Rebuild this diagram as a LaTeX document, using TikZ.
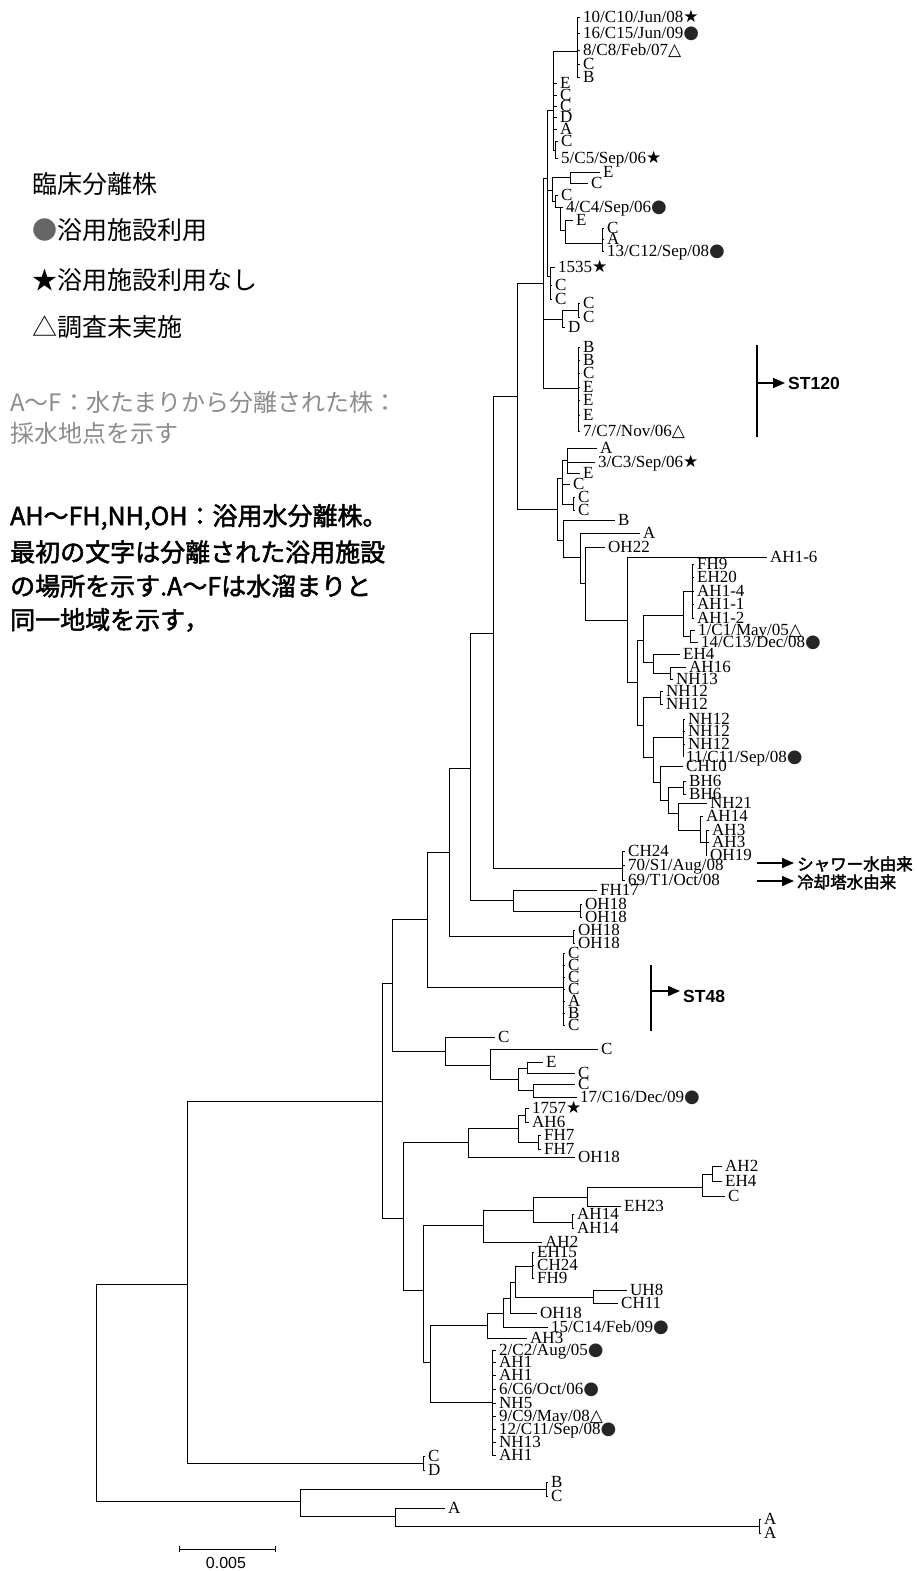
\documentclass[tikz,border=0pt]{standalone}
\usepackage{fontspec}
\setmainfont{Liberation Serif}
\newfontfamily\symf{DejaVu Sans}
\newfontfamily\jpf{Noto Sans CJK JP}
\newfontfamily\jpbf[FakeBold=2]{Noto Sans CJK JP}
\newfontfamily\arf{Liberation Sans}
\usetikzlibrary{arrows.meta}
\newcommand{\lfont}{\fontsize{17}{18}\selectfont}
\newcommand{\Sst}{{\symf\fontsize{17}{17}\selectfont ★}}
\newcommand{\Sdt}{{\color{black!85}\symf\fontsize{18}{17}\selectfont ●}}
\newcommand{\Str}{{\symf\fontsize{17}{17}\selectfont △}}
\newcommand{\lf}[4]{\coordinate (#1) at (#2,#3);\node[lab] (#1t) at (#1) {#4};}
\newcommand{\ic}[3]{\coordinate (#1) at (#2,#3);}
\newcommand{\brs}[2]{\foreach \cc in {#2}{\draw[br] (#1) |- (\cc);}}
\begin{document}
\begin{tikzpicture}[x=1pt,y=-1pt,
 br/.style={line width=0.9pt},
 lab/.style={anchor=west,inner sep=0pt,xshift=3pt,font=\lfont,text height=11.6pt,text depth=0.5pt},
 mk/.style={line width=1.4pt},
 arr/.style={line width=1.4pt,-{Triangle[length=12pt,width=10pt]},shorten >=3pt},
 lg/.style={anchor=west,inner sep=0pt,font=\jpf\fontsize{25}{28}\selectfont},
 lgg/.style={anchor=west,inner sep=0pt,font=\jpf\fontsize{24}{28}\selectfont,text=black!45},
 lgb/.style={anchor=west,inner sep=0pt,font=\jpbf\fontsize{25}{28}\selectfont},
 stl/.style={anchor=west,inner sep=0pt,font=\arf\bfseries\fontsize{17.5}{18}\selectfont},
 jl/.style={anchor=west,inner sep=0pt,font=\jpbf\fontsize{16.5}{18}\selectfont}]
\useasboundingbox (0,0) rectangle (917,1571);
% ---------------- legend
\node[lg] (lg1) at (32,184) {臨床分離株};
\node[lg] (lg2) at (32,230) {{\color{black!60}●}浴用施設利用};
\node[lg] (lg3) at (32,280) {★浴用施設利用なし};
\node[lg] (lg4) at (32,327) {△調査未実施};
\node[lgg] (lg5) at (10,402) {A～F：水たまりから分離された株：};
\node[lgg] (lg6) at (10,433) {採水地点を示す};
\node[lgb] (lg7) at (10,517) {AH～FH,NH,OH：浴用水分離株。};
\node[lgb] (lg8) at (10,552) {最初の文字は分離された浴用施設};
\node[lgb] (lg9) at (10,586) {の場所を示す.A～Fは水溜まりと};
\node[lgb] (lg10) at (10,620) {同一地域を示す，};
% ---------------- root
\ic{R}{96}{1392}
\ic{n187}{187}{1284}
\ic{n300}{300}{1501}
\brs{R}{n187,n300}
\ic{n382}{382}{1101}
\ic{ncd}{423}{1463}
\brs{n187}{n382,ncd}
\lf{cd1}{425}{1456}{C}
\lf{cd2}{425}{1470}{D}
\brs{ncd}{cd1,cd2}
\ic{n546}{546}{1489}
\ic{n395}{395}{1516}
\brs{n300}{n546,n395}
\lf{ob1}{548}{1482}{B}
\lf{ob2}{548}{1496}{C}
\brs{n546}{ob1,ob2}
\lf{oa1}{445}{1508}{A}
\ic{n759}{759}{1526}
\brs{n395}{oa1,n759}
\lf{oa2}{761}{1519}{A}
\lf{oa3}{761}{1533}{A}
\brs{n759}{oa2,oa3}
% ---------------- n382
\ic{n392}{392}{983}
\ic{n403}{403}{1218}
\brs{n382}{n392,n403}
\ic{n427}{427}{919}
\ic{n445}{445}{1051}
\brs{n392}{n427,n445}
\lf{cc1}{495}{1037}{C}
\ic{n490}{490}{1065}
\brs{n445}{cc1,n490}
\lf{cc2}{598}{1049}{C}
\ic{n518c}{518}{1079}
\brs{n490}{cc2,n518c}
\ic{n527}{527}{1068}
\ic{n533c}{533}{1090}
\brs{n518c}{n527,n533c}
\lf{cc3}{543}{1062}{E}
\lf{cc4}{575}{1073}{C}
\brs{n527}{cc3,cc4}
\lf{cc5}{575}{1084}{C}
\lf{cc6}{577}{1097}{17/C16/Dec/09\Sdt}
\brs{n533c}{cc5,cc6}
% ---------------- n403
\ic{n468}{468}{1142}
\ic{n423}{423}{1290}
\brs{n403}{n468,n423}
\ic{n518}{518}{1128}
\lf{fo1}{575}{1157}{OH18}
\brs{n468}{n518,fo1}
\ic{n525}{525}{1115}
\ic{n538}{538}{1142}
\brs{n518}{n525,n538}
\lf{fa1}{529}{1108}{1757\Sst}
\lf{fa2}{529}{1122}{AH6}
\brs{n525}{fa1,fa2}
\lf{ff1}{541}{1135}{FH7}
\lf{ff2}{541}{1149}{FH7}
\brs{n538}{ff1,ff2}
% ---------------- n423
\ic{n483}{483}{1225}
\ic{n430}{430}{1362}
\brs{n423}{n483,n430}
\ic{n533}{533}{1210}
\lf{ga1}{542}{1242}{AH2}
\brs{n483}{n533,ga1}
\ic{n587}{587}{1197}
\ic{n572}{572}{1222}
\brs{n533}{n587,n572}
\ic{n702}{702}{1187}
\lf{ga2}{621}{1206}{EH23}
\brs{n587}{n702,ga2}
\ic{n712}{712}{1174}
\lf{ga3}{725}{1196}{C}
\brs{n702}{n712,ga3}
\lf{ga4}{722}{1166}{AH2}
\lf{ga5}{722}{1181}{EH4}
\brs{n712}{ga4,ga5}
\lf{ga6}{574}{1214}{AH14}
\lf{ga7}{574}{1228}{AH14}
\brs{n572}{ga6,ga7}
\ic{n487}{487}{1325}
\ic{n492}{492}{1402}
\brs{n430}{n487,n492}
\ic{n503}{503}{1313}
\lf{ha1}{527}{1338}{AH3}
\brs{n487}{n503,ha1}
\ic{n510}{510}{1298}
\lf{ha2}{548}{1327}{15/C14/Feb/09\Sdt}
\brs{n503}{n510,ha2}
\ic{n515}{515}{1282}
\lf{ha3}{537}{1313}{OH18}
\brs{n510}{n515,ha3}
\ic{n532}{532}{1266}
\ic{n593}{593}{1297}
\brs{n515}{n532,n593}
\lf{ha4}{534}{1252}{EH15}
\lf{ha5}{534}{1265}{CH24}
\lf{ha6}{534}{1278}{FH9}
\brs{n532}{ha4,ha5,ha6}
\lf{ha7}{627}{1290}{UH8}
\lf{ha8}{618}{1303}{CH11}
\brs{n593}{ha7,ha8}
\lf{m1}{496}{1350}{2/C2/Aug/05\Sdt}
\lf{m2}{496}{1362}{AH1}
\lf{m3}{496}{1375}{AH1}
\lf{m4}{496}{1389}{6/C6/Oct/06\Sdt}
\lf{m5}{496}{1403}{NH5}
\lf{m6}{496}{1416}{9/C9/May/08\Str}
\lf{m7}{496}{1429}{12/C11/Sep/08\Sdt}
\lf{m8}{496}{1442}{NH13}
\lf{m9}{496}{1455}{AH1}
\brs{n492}{m1,m2,m3,m4,m5,m6,m7,m8,m9}
% ---------------- n427
\ic{n449}{449}{852}
\ic{n563}{563}{987}
\brs{n427}{n449,n563}
\lf{k1}{565}{953}{C}
\lf{k2}{565}{965}{C}
\lf{k3}{565}{977}{C}
\lf{k4}{565}{989}{C}
\lf{k5}{565}{1001}{A}
\lf{k6}{565}{1013}{B}
\lf{k7}{565}{1025}{C}
\brs{n563}{k1,k2,k3,k4,k5,k6,k7}
\ic{n470}{470}{768}
\ic{n573}{573}{936}
\brs{n449}{n470,n573}
\lf{o1}{575}{930}{OH18}
\lf{o2}{575}{943}{OH18}
\brs{n573}{o1,o2}
\ic{n493}{493}{633}
\ic{n513}{513}{900}
\brs{n470}{n493,n513}
\lf{fh17}{597}{890}{FH17}
\ic{n580o}{580}{911}
\brs{n513}{fh17,n580o}
\lf{o3}{582}{904}{OH18}
\lf{o4}{582}{917}{OH18}
\brs{n580o}{o3,o4}
\ic{n517}{517}{396}
\ic{n622}{622}{868}
\brs{n493}{n517,n622}
\lf{s1}{625}{851}{CH24}
\lf{s2}{625}{865}{70/S1/Aug/08}
\lf{s3}{625}{880}{69/T1/Oct/08}
\brs{n622}{s1,s2,s3}
% ---------------- n517 upper
\ic{n543}{543}{283}
\ic{n557}{557}{509}
\brs{n517}{n543,n557}
\ic{n547}{547}{178}
\ic{n562}{562}{319}
\ic{n578}{578}{388}
\brs{n543}{n547,n562,n578}
\ic{n553}{553}{110}
\ic{n552}{552}{190}
\ic{n550}{550}{276}
\brs{n547}{n553,n552,n550}
\ic{n577}{577}{51}
\lf{t1}{580}{17}{10/C10/Jun/08\Sst}
\lf{t2}{580}{33}{16/C15/Jun/09\Sdt}
\lf{t3}{580}{50}{8/C8/Feb/07\Str}
\lf{t4}{580}{64}{C}
\lf{t5}{580}{77}{B}
\brs{n577}{t1,t2,t3,t4,t5}
\lf{u1}{557}{83}{E}
\lf{u2}{557}{95}{C}
\lf{u3}{557}{106}{C}
\lf{u4}{557}{117}{D}
\lf{u5}{557}{129}{A}
\ic{n555}{555}{150}
\brs{n553}{n577,u1,u2,u3,u4,u5,n555}
\lf{u6}{558}{141}{C}
\lf{u7}{558}{158}{5/C5/Sep/06\Sst}
\brs{n555}{u6,u7}
\ic{n570}{570}{177}
\ic{n555b}{555}{201}
\brs{n552}{n570,n555b}
\lf{v1}{600}{172}{E}
\lf{v2}{588}{183}{C}
\brs{n570}{v1,v2}
\lf{v3}{558}{195}{C}
\ic{n560}{560}{207}
\brs{n555b}{v3,n560}
\lf{v4}{563}{207}{4/C4/Sep/06\Sdt}
\ic{n565}{565}{230}
\brs{n560}{v4,n565}
\lf{v5}{573}{220}{E}
\ic{n602}{602}{243}
\brs{n565}{v5,n602}
\lf{v6}{604}{228}{C}
\lf{v7}{604}{239}{A}
\lf{v8}{604}{251}{13/C12/Sep/08\Sdt}
\brs{n602}{v6,v7,v8}
\lf{w1}{555}{267}{1535\Sst}
\lf{w2}{552}{285}{C}
\lf{w3}{552}{299}{C}
\brs{n550}{w1,w2,w3}
\ic{n578c}{578}{310}
\lf{w4}{565}{327}{D}
\brs{n562}{n578c,w4}
\lf{w5}{580}{303}{C}
\lf{w6}{580}{317}{C}
\brs{n578c}{w5,w6}
\lf{p1}{580}{347}{B}
\lf{p2}{580}{360}{B}
\lf{p3}{580}{373}{C}
\lf{p4}{580}{387}{E}
\lf{p5}{580}{400}{E}
\lf{p6}{580}{415}{E}
\lf{p7}{580}{431}{7/C7/Nov/06\Str}
\brs{n578}{p1,p2,p3,p4,p5,p6,p7}
% ---------------- n557
\ic{n562b}{562}{478}
\ic{n563b}{563}{540}
\brs{n557}{n562b,n563b}
\ic{n567}{567}{460}
\lf{x3}{570}{484}{C}
\ic{n573b}{573}{504}
\brs{n562b}{n567,x3,n573b}
\lf{x0}{597}{448}{A}
\lf{x1}{595}{462}{3/C3/Sep/06\Sst}
\lf{x2}{580}{473}{E}
\brs{n567}{x0,x1,x2}
\lf{x4}{575}{497}{C}
\lf{x5}{575}{510}{C}
\brs{n573b}{x4,x5}
\lf{x6}{615}{520}{B}
\ic{n580a}{580}{557}
\brs{n563b}{x6,n580a}
\lf{x7}{640}{533}{A}
\ic{n585}{585}{583}
\brs{n580a}{x7,n585}
\lf{x8}{605}{547}{OH22}
\ic{n627}{627}{620}
\brs{n585}{x8,n627}
\lf{x9}{767}{557}{AH1-6}
\ic{n637}{637}{682}
\brs{n627}{x9,n637}
\ic{n643}{643}{640}
\ic{n643b}{643}{725}
\brs{n637}{n643,n643b}
\ic{n683}{683}{615}
\ic{n653}{653}{662}
\brs{n643}{n683,n653}
\ic{n692}{692}{591}
\ic{n690}{690}{636}
\brs{n683}{n692,n690}
\lf{y1}{694}{564}{FH9}
\lf{y2}{694}{577}{EH20}
\lf{y3}{694}{591}{AH1-4}
\lf{y4}{694}{604}{AH1-1}
\lf{y5}{694}{618}{AH1-2}
\brs{n692}{y1,y2,y3,y4,y5}
\lf{y6}{695}{630}{1/C1/May/05\Str}
\lf{y7}{698}{642}{14/C13/Dec/08\Sdt}
\brs{n690}{y6,y7}
\lf{y8}{680}{654}{EH4}
\ic{n670}{670}{673}
\brs{n653}{y8,n670}
\lf{y9}{686}{667}{AH16}
\lf{y10}{673}{679}{NH13}
\brs{n670}{y9,y10}
\ic{n660}{660}{697}
\ic{n653b}{653}{757}
\brs{n643b}{n660,n653b}
\lf{z1}{663}{691}{NH12}
\lf{z2}{663}{704}{NH12}
\brs{n660}{z1,z2}
\ic{n683b}{683}{737}
\ic{n660b}{660}{782}
\brs{n653b}{n683b,n660b}
\lf{z3}{685}{719}{NH12}
\lf{z4}{685}{731}{NH12}
\lf{z5}{685}{744}{NH12}
\lf{z6}{683}{757}{11/C11/Sep/08\Sdt}
\brs{n683b}{z3,z4,z5,z6}
\lf{z7}{683}{766}{CH10}
\ic{n668}{668}{800}
\brs{n660b}{z7,n668}
\ic{n683c}{683}{787}
\ic{n678}{678}{813}
\brs{n668}{n683c,n678}
\lf{z8}{686}{781}{BH6}
\lf{z9}{686}{794}{BH6}
\brs{n683c}{z8,z9}
\lf{z10}{707}{803}{NH21}
\ic{n700}{700}{830}
\brs{n678}{z10,n700}
\lf{z11}{703}{816}{AH14}
\ic{n706}{706}{842}
\brs{n700}{z11,n706}
\lf{z12}{709}{830}{AH3}
\lf{z13}{709}{842}{AH3}
\lf{z14}{707}{855}{OH19}
\brs{n706}{z12,z13,z14}
% ---------------- markers
\coordinate (st1a) at (757,345);
\coordinate (st1b) at (757,437);
\coordinate (st1m) at (757,383);
\draw[mk] (st1a) -- (st1b);
\node[stl] (st1) at (788,383) {ST120};
\draw[arr] (st1m) -- (st1m -| st1.west);
\coordinate (st2a) at (651,965);
\coordinate (st2b) at (651,1031);
\coordinate (st2m) at (651,991);
\draw[mk] (st2a) -- (st2b);
\node[stl] (st2) at (683,996) {ST48};
\draw[arr] (st2m) -- (st2m -| st2.west);
\node[jl] (sh1) at (797,864) {シャワー水由来};
\coordinate (sh1a) at (757,863);
\draw[arr] (sh1a) -- (sh1a -| sh1.west);
\node[jl] (sh2) at (797,882) {冷却塔水由来};
\coordinate (sh2a) at (757,881);
\draw[arr] (sh2a) -- (sh2a -| sh2.west);
% ---------------- scale bar
\coordinate (sb1) at (179,1549);
\coordinate (sb2) at (275,1549);
\draw[br] (sb1) -- (sb2);
\draw[br] ([yshift=-3pt]sb1) -- ([yshift=3pt]sb1);
\draw[br] ([yshift=-3pt]sb2) -- ([yshift=3pt]sb2);
\node[inner sep=0pt,font=\arf\fontsize{16}{18}\selectfont] (sbl) at (226,1563) {0.005};
\end{tikzpicture}
\end{document}
